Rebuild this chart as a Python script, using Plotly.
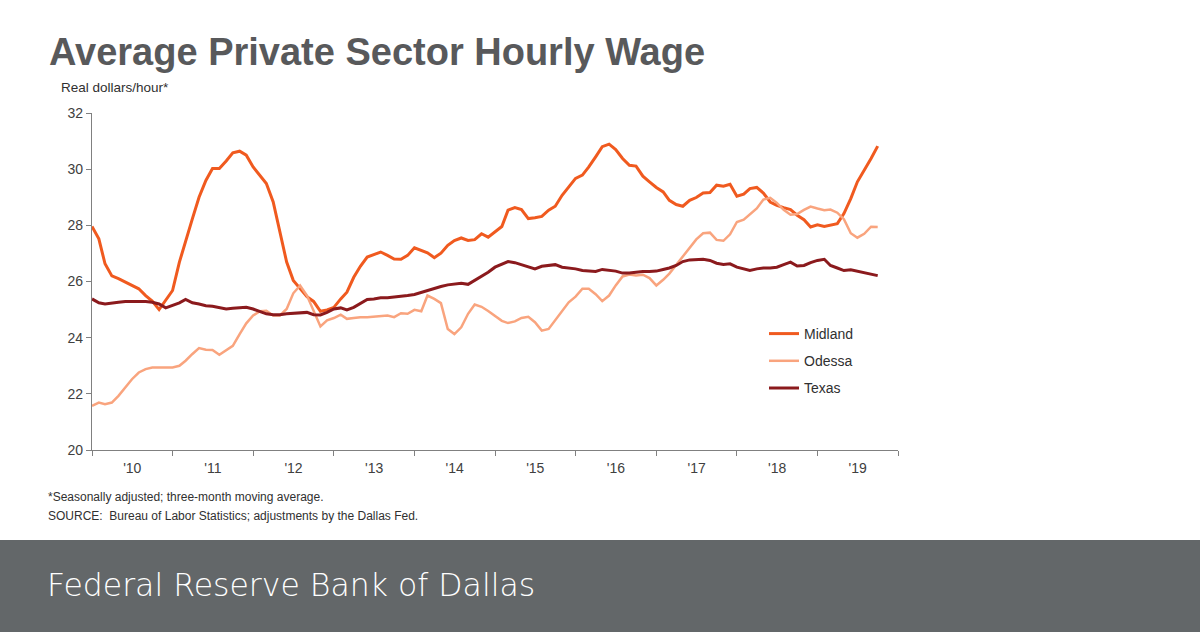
import pandas as pd
import plotly.graph_objects as go

# monthly, Jan 2010 - Oct 2019 (real dollars/hour)
months = pd.date_range("2010-01-01", "2019-10-01", freq="MS")

midland = [
    27.96, 27.52, 26.63, 26.20, 26.10, 25.98, 25.86, 25.74, 25.50, 25.30,
    25.00, 25.35, 25.68, 26.69, 27.46, 28.24, 29.00, 29.60, 30.02, 30.02,
    30.29, 30.58, 30.64, 30.50, 30.08, 29.79, 29.49, 28.83, 27.82, 26.69,
    26.04, 25.76, 25.46, 25.29, 24.94, 24.99, 25.08, 25.38, 25.62, 26.15,
    26.54, 26.87, 26.96, 27.05, 26.93, 26.80, 26.79, 26.93, 27.20, 27.11,
    27.02, 26.85, 27.01, 27.29, 27.46, 27.55, 27.46, 27.49, 27.70, 27.58,
    27.76, 27.96, 28.54, 28.63, 28.56, 28.24, 28.27, 28.32, 28.54, 28.68,
    29.07, 29.37, 29.67, 29.79, 30.08, 30.44, 30.80, 30.89, 30.70, 30.38,
    30.14, 30.11, 29.75, 29.55, 29.35, 29.19, 28.89, 28.74, 28.68, 28.89,
    28.99, 29.15, 29.17, 29.43, 29.39, 29.46, 29.04, 29.11, 29.31, 29.35,
    29.15, 28.83, 28.71, 28.63, 28.56, 28.36, 28.20, 27.94, 28.02, 27.96,
    28.00, 28.06, 28.42, 28.95, 29.55, 29.96, 30.38, 30.82,
]

odessa = [
    21.57, 21.69, 21.63, 21.69, 21.93, 22.23, 22.52, 22.76, 22.88, 22.94,
    22.94, 22.94, 22.94, 23.00, 23.18, 23.42, 23.63, 23.57, 23.56, 23.39,
    23.54, 23.71, 24.13, 24.51, 24.79, 24.94, 24.96, 24.79, 24.79, 25.02,
    25.58, 25.86, 25.50, 24.96, 24.40, 24.62, 24.70, 24.82, 24.67, 24.70,
    24.73, 24.73, 24.75, 24.79, 24.79, 24.73, 24.87, 24.85, 24.99, 24.94,
    25.50, 25.38, 25.23, 24.31, 24.13, 24.37, 24.85, 25.18, 25.10, 24.95,
    24.78, 24.60, 24.52, 24.58, 24.70, 24.74, 24.55, 24.25, 24.31, 24.63,
    24.96, 25.26, 25.46, 25.74, 25.74, 25.55, 25.30, 25.50, 25.86, 26.18,
    26.25, 26.21, 26.24, 26.12, 25.86, 26.06, 26.28, 26.60, 26.90, 27.20,
    27.50, 27.72, 27.74, 27.48, 27.45, 27.68, 28.12, 28.20, 28.38, 28.60,
    28.92, 28.98, 28.80, 28.55, 28.38, 28.40, 28.55, 28.67, 28.60, 28.54,
    28.56, 28.45, 28.22, 27.72, 27.56, 27.70, 27.95, 27.94,
]

texas = [
    25.38, 25.24, 25.20, 25.24, 25.26, 25.29, 25.29, 25.29, 25.29, 25.26,
    25.20, 25.06, 25.14, 25.24, 25.36, 25.24, 25.20, 25.14, 25.12, 25.06,
    25.02, 25.05, 25.06, 25.08, 25.02, 24.94, 24.85, 24.82, 24.82, 24.85,
    24.87, 24.88, 24.90, 24.82, 24.81, 24.90, 25.02, 25.06, 24.99, 25.08,
    25.23, 25.36, 25.38, 25.42, 25.42, 25.44, 25.46, 25.50, 25.54, 25.61,
    25.68, 25.77, 25.82, 25.88, 25.92, 25.94, 25.90, 26.04, 26.18, 26.33,
    26.51, 26.63, 26.71, 26.67, 26.60, 26.51, 26.45, 26.54, 26.57, 26.60,
    26.51, 26.48, 26.45, 26.39, 26.37, 26.36, 26.43, 26.39, 26.37, 26.30,
    26.30, 26.33, 26.36, 26.36, 26.37, 26.43, 26.48, 26.57, 26.71, 26.77,
    26.79, 26.79, 26.75, 26.65, 26.61, 26.63, 26.51, 26.45, 26.39, 26.45,
    26.48, 26.48, 26.51, 26.60, 26.69, 26.55, 26.57, 26.67, 26.75, 26.79,
    26.57, 26.48, 26.39, 26.42, 26.37, 26.33, 26.27, 26.21,
]

series = [
    ("Midland", midland, "#f05a1f", 3),
    ("Odessa", odessa, "#f9a47e", 2.5),
    ("Texas", texas, "#8b1a1d", 3),
]

W, H = 1200, 632


def px_x(x):
    return x / W


def px_y(y):
    return 1 - y / H


fig = go.Figure()
for name, vals, color, width in series:
    fig.add_trace(go.Scatter(
        x=months, y=vals, name=name, mode="lines", legendgroup=name,
        line=dict(color=color, width=width),
    ))

axis_font = dict(family="Liberation Sans, Arial", size=14, color="#404040")

fig.update_layout(
    width=W, height=H,
    margin=dict(l=0, r=0, t=0, b=0, autoexpand=False),
    paper_bgcolor="white", plot_bgcolor="white",
    showlegend=True,
    legend=dict(
        x=px_x(764), y=px_y(318), xanchor="left", yanchor="top",
        font=dict(family="Liberation Sans, Arial", size=14, color="#303030"),
        tracegroupgap=6, bgcolor="rgba(0,0,0,0)",
    ),
    xaxis=dict(
        domain=[px_x(92), px_x(898)], automargin=False,
        type="date", range=["2010-01-01", "2020-01-01"],
        tick0="2010-01-01", dtick="M12", tickformat="'%y",
        ticklabelmode="period",
        showgrid=False, zeroline=False,
        showline=True, linecolor="#808080", linewidth=1.3,
        ticks="outside", ticklen=5, tickcolor="#808080",
        tickfont=axis_font,
    ),
    yaxis=dict(
        domain=[px_y(450), px_y(113)], automargin=False,
        range=[20, 32], dtick=2,
        showgrid=False, zeroline=False,
        showline=True, linecolor="#808080", linewidth=1.3,
        ticks="outside", ticklen=5, tickcolor="#808080",
        tickfont=axis_font,
    ),
)

# dark footer band
fig.add_shape(type="rect", xref="paper", yref="paper",
              x0=0, x1=1, y0=0, y1=px_y(540),
              fillcolor="#636769", line_width=0, layer="below")

notes = [
    ("Average Private Sector Hourly Wage", 47, 52,
     dict(family="Liberation Sans, Arial", size=38, color="#58595b", weight="bold")),
    ("Real dollars/hour*", 59, 87,
     dict(family="Liberation Sans, Arial", size=13.5, color="#303030")),
    ("*Seasonally adjusted; three-month moving average.", 46, 497,
     dict(family="Liberation Sans, Arial", size=12, color="#303030")),
    ("SOURCE:  Bureau of Labor Statistics; adjustments by the Dallas Fed.", 46, 516,
     dict(family="Liberation Sans, Arial", size=12, color="#303030")),
    ("Federal Reserve Bank of Dallas", 45, 585,
     dict(family="DejaVu Sans", size=31.5, color="white", weight=200)),
]
for text, x, y, font in notes:
    fig.add_annotation(text=text, x=px_x(x), y=px_y(y), xref="paper", yref="paper",
                       xanchor="left", yanchor="middle", showarrow=False, font=font)

# drop the page margin so the 1200x632 figure fills the window exactly
page_fix = (
    "document.documentElement.style.margin='0';"
    "document.body.style.margin='0';"
    "document.body.style.overflow='hidden';"
)

fig.write_html("out.html", post_script=page_fix,
               config={"displayModeBar": False})
